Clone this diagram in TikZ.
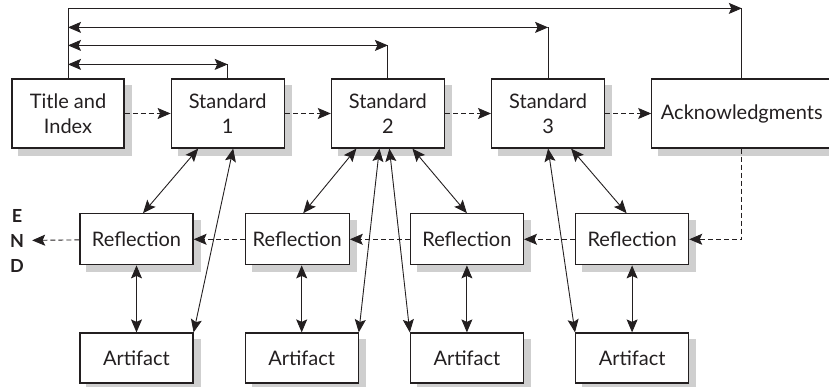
\documentclass[tikz,border=0pt]{standalone}
\usepackage{fontspec}
\setmainfont{Lato}
\usetikzlibrary{arrows.meta,positioning,backgrounds}
\definecolor{ink}{HTML}{231F20}
\definecolor{boxshadow}{HTML}{CFCFCF}

\begin{document}
\begin{tikzpicture}[
  x=1pt,y=1pt,
  node distance=46pt,
  box/.style={draw=ink,line width=1.2pt,fill=white,
              minimum width=113pt,minimum height=69pt,inner sep=0pt,
              font=\fontsize{20}{25}\selectfont,align=center,text=ink},
  rbox/.style={box,minimum height=51pt},
  abox/.style={box,minimum height=50pt},
  conn/.style={ink,line width=0.9pt},
  arr/.style={conn,-{Stealth[length=13pt,width=11pt,inset=2.5pt]}},
  dbl/.style={conn,{Stealth[length=13pt,width=11pt,inset=2.5pt]}-{Stealth[length=13pt,width=11pt,inset=2.5pt]}},
  dasharr/.style={arr,dash pattern=on 5pt off 3pt}
]
  \useasboundingbox (0,0) rectangle (829,386);

  % top row
  \node[box,minimum width=112pt](title) at (68,272.5){Title and\\Index};
  \node[box,right=of title](std1){Standard\\1};
  \node[box,right=of std1](std2){Standard\\2};
  \node[box,right=of std2](std3){Standard\\3};
  \node[box,right=of std3,minimum width=180pt](ack){Acknowledgments};

  % bottom row
  \node[abox](art1) at (136.5,28){Artifact};
  \node[abox,right=51pt of art1](art2){Artifact};
  \node[abox,right=51pt of art2](art3){Artifact};
  \node[abox,right=51pt of art3](art4){Artifact};

  % middle row
  \node[rbox,above=67pt of art1](ref1){Reflection};
  \node[rbox,minimum width=104pt,above=67pt of art2.north west,anchor=south west](ref2){Reflection};
  \node[rbox,above=67pt of art3](ref3){Reflection};
  \node[rbox,above=67pt of art4](ref4){Reflection};

  \node[font=\fontsize{18}{25}\selectfont\bfseries,text=ink,align=center,
        inner xsep=8pt,inner ysep=2pt](end) at (17,145.5){E\\N\\D};

  % shadows
  \begin{scope}[on background layer]
    \foreach \n in {title,std1,std2,std3,ack,ref1,ref2,ref3,ref4,art1,art2,art3,art4}
      \fill[boxshadow]([shift={(7pt,-7pt)}]\n.south west) rectangle ([shift={(7pt,-7pt)}]\n.north east);
  \end{scope}

  % reading order
  \draw[dasharr](title)--(std1);
  \draw[dasharr](std1)--(std2);
  \draw[dasharr](std2)--(std3);
  \draw[dasharr](std3)--(ack);
  \draw[dasharr](ack.south)|-(ref4.east);
  \draw[dasharr](ref4)--(ref3);
  \draw[dasharr](ref3)--(ref2);
  \draw[dasharr](ref2)--(ref1);
  \draw[dasharr](ref1)--(end);

  % links back to the title page
  \draw[arr](title.north)|-([yshift=70pt]ack.north);
  \draw[conn](ack.north)--++(0,70);
  \draw[dbl]([yshift=51pt]title.north)--([yshift=51pt]std3.north);
  \draw[conn](std3.north)--++(0,51);
  \draw[dbl]([yshift=33pt]title.north)--([yshift=33pt]std2.north);
  \draw[conn](std2.north)--++(0,33);
  \draw[dbl]([yshift=14pt]title.north)--([yshift=14pt]std1.north);
  \draw[conn](std1.north)--++(0,14);

  % standards to reflections and artifacts
  \draw[dbl]([xshift=-29.5pt]std1.south)--([xshift=6.5pt]ref1.north);
  \draw[dbl]([xshift=5.5pt]std1.south)--(art1.north east);
  \draw[dbl]([xshift=-31.5pt]std2.south)--([xshift=6pt]ref2.north);
  \draw[dbl]([xshift=-8.5pt]std2.south)--(art2.north east);
  \draw[dbl]([xshift=1.5pt]std2.south)--(art3.north west);
  \draw[dbl]([xshift=24.5pt]std2.south)--(ref3.north);
  \draw[dbl](std3.south)--(art4.north west);
  \draw[dbl]([xshift=23pt]std3.south)--([xshift=-5.5pt]ref4.north);

  \foreach \i in {1,...,4}
    \draw[dbl](ref\i.south -| art\i.north)--(art\i.north);
\end{tikzpicture}
\end{document}
